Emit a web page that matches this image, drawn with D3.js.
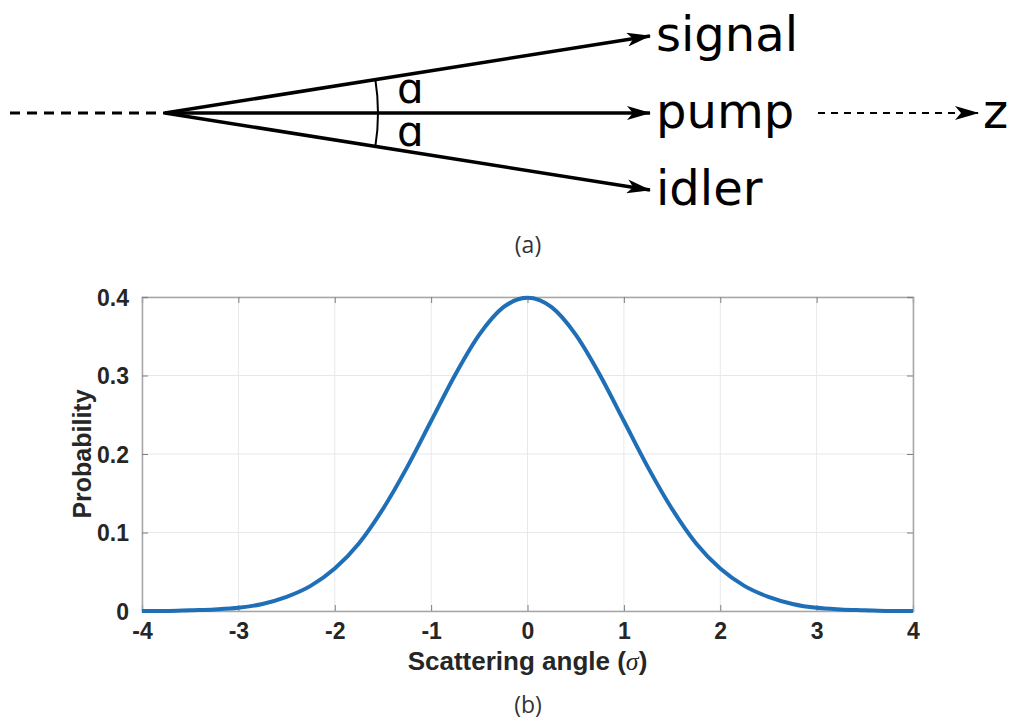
<!DOCTYPE html>
<html>
<head>
<meta charset="utf-8">
<script src="https://cdn.jsdelivr.net/npm/d3@7"></script>
<style>
    body { margin: 0; background: #fff; }
    svg { display: block; }
</style>
</head>
<body>
<svg class="figure" width="1018" height="728"></svg>
<script>
// scattering angle (sigma) vs probability
var angles = [-4, -3.75, -3.5, -3.25, -3, -2.75, -2.5, -2.25, -2, -1.75, -1.5, -1.25, -1, -0.75, -0.5, -0.25,
    0, 0.25, 0.5, 0.75, 1, 1.25, 1.5, 1.75, 2, 2.25, 2.5, 2.75, 3, 3.25, 3.5, 3.75, 4];
var probability = [0.000, 0.000, 0.001, 0.002, 0.004, 0.009, 0.018, 0.032, 0.054, 0.086, 0.130, 0.183, 0.242, 0.301, 0.352, 0.387,
    0.399, 0.387, 0.352, 0.301, 0.242, 0.183, 0.130, 0.086, 0.054, 0.032, 0.018, 0.009, 0.004, 0.002, 0.001, 0.000, 0.000];
var xTicks = [-4, -3, -2, -1, 0, 1, 2, 3, 4];
var yTicks = [0, 0.1, 0.2, 0.3, 0.4];

// beams in panel (a): name and relative angle (+1 up, 0 straight, -1 down)
var beams = ["signal", "pump", "idler"];
var beamDir = [1, 0, -1];

var svg = d3.select("svg.figure");
var defs = svg.append("defs");
defs.append("marker")
    .attr("id", "head")
    .attr("viewBox", "0 0 24 14")
    .attr("refX", 23)
    .attr("refY", 7)
    .attr("markerWidth", 24)
    .attr("markerHeight", 14)
    .attr("markerUnits", "userSpaceOnUse")
    .attr("orient", "auto")
    .append("path")
    .attr("d", "M0,0 L24,7 L0,14 L6,7 Z")
    .attr("fill", "#000");

// ---------- panel (a) ----------
var diag = svg.append("g").classed("diagram", true);
var originX = 165, originY = 113, tipX = 650, spread = 77;
var bigFont = "DejaVu Sans, sans-serif";

diag.append("line")
    .attr("x1", 10).attr("y1", originY)
    .attr("x2", originX).attr("y2", originY)
    .attr("stroke", "#000").attr("stroke-width", 3)
    .attr("stroke-dasharray", "10,7");

beams.forEach(function (name, i) {
    var ty = originY - beamDir[i] * spread;
    diag.append("line")
        .attr("x1", originX).attr("y1", originY)
        .attr("x2", tipX).attr("y2", ty)
        .attr("stroke", "#000").attr("stroke-width", 3.5)
        .attr("marker-end", "url(#head)");
    diag.append("text")
        .attr("x", tipX + 6)
        .attr("y", ty + 15)
        .attr("font-family", bigFont)
        .attr("font-size", 48)
        .text(name);
});

diag.append("line")
    .attr("x1", 818).attr("y1", originY)
    .attr("x2", 978).attr("y2", originY)
    .attr("stroke", "#000").attr("stroke-width", 2)
    .attr("stroke-dasharray", "7,6")
    .attr("marker-end", "url(#head)");
diag.append("text")
    .attr("x", 983).attr("y", originY + 15)
    .attr("font-family", bigFont)
    .attr("font-size", 48)
    .text("z");

// angle arcs
var arcR = 213;
[1, -1].forEach(function (s) {
    var a = Math.atan2(spread, tipX - originX);
    var p = d3.path();
    p.arc(originX, originY, arcR, 0, -s * a, s > 0);
    diag.append("path")
        .attr("d", p.toString())
        .attr("fill", "none")
        .attr("stroke", "#000")
        .attr("stroke-width", 2);
    diag.append("text")
        .attr("x", 397)
        .attr("y", s > 0 ? 103 : 146)
        .attr("font-family", bigFont)
        .attr("font-size", 42)
        .text("ɑ");
});

svg.append("text")
    .attr("x", 528).attr("y", 253)
    .attr("text-anchor", "middle")
    .attr("font-family", "Open Sans, sans-serif")
    .attr("font-size", 23)
    .attr("fill", "#333")
    .text("(a)");

// ---------- panel (b) ----------
var plotLeft = 142, plotRight = 913, plotTop = 297, plotBottom = 611;
var xScale = d3.scaleLinear().domain([-4, 4]).range([plotLeft, plotRight]);
var yScale = d3.scaleLinear().domain([0, 0.4]).range([plotBottom, plotTop]);

var plot = svg.append("g").classed("plot", true);

plot.append("g").selectAll("line.gx")
    .data(xTicks)
    .enter().append("line")
    .classed("gx", true)
    .attr("x1", function (d) { return xScale(d); })
    .attr("x2", function (d) { return xScale(d); })
    .attr("y1", plotTop).attr("y2", plotBottom)
    .attr("stroke", "#e8e8e8").attr("stroke-width", 1);
plot.append("g").selectAll("line.gy")
    .data(yTicks)
    .enter().append("line")
    .classed("gy", true)
    .attr("y1", function (d) { return yScale(d); })
    .attr("y2", function (d) { return yScale(d); })
    .attr("x1", plotLeft).attr("x2", plotRight)
    .attr("stroke", "#e8e8e8").attr("stroke-width", 1);

var fmtX = function (d) { return String(d); };
var fmtY = function (d) { return d === 0 ? "0" : d.toFixed(1); };

var xAxis = plot.append("g")
    .attr("transform", "translate(0," + plotBottom + ")")
    .call(d3.axisBottom(xScale).tickValues(xTicks).tickSize(-6).tickPadding(14).tickFormat(fmtX));
var xAxisTop = plot.append("g")
    .attr("transform", "translate(0," + plotTop + ")")
    .call(d3.axisTop(xScale).tickValues(xTicks).tickSize(-6).tickFormat(""));
var yAxis = plot.append("g")
    .attr("transform", "translate(" + plotLeft + ",0)")
    .call(d3.axisLeft(yScale).tickValues(yTicks).tickSize(-6).tickPadding(13).tickFormat(fmtY));
var yAxisRight = plot.append("g")
    .attr("transform", "translate(" + plotRight + ",0)")
    .call(d3.axisRight(yScale).tickValues(yTicks).tickSize(-6).tickFormat(""));

[xAxis, xAxisTop, yAxis, yAxisRight].forEach(function (ax) {
    ax.attr("font-family", "Liberation Sans, Arial, sans-serif")
        .attr("font-size", 23)
        .attr("font-weight", "bold");
    ax.selectAll("path.domain").attr("stroke", "#a6a6a6").attr("stroke-width", 1.5);
    ax.selectAll(".tick line").attr("stroke", "#7f7f7f").attr("stroke-width", 1);
    ax.selectAll(".tick text").attr("fill", "#262626");
});
xAxis.selectAll(".tick text").attr("dy", "0.6em");
yAxis.selectAll(".tick text").attr("dy", "0.35em");

var line = d3.line()
    .x(function (d, i) { return xScale(angles[i]); })
    .y(function (d) { return yScale(d); })
    .curve(d3.curveMonotoneX);

plot.append("path")
    .datum(probability)
    .attr("d", line)
    .attr("fill", "none")
    .attr("stroke", "#1f6fb6")
    .attr("stroke-width", 4);

svg.append("text")
    .attr("transform", "translate(91," + ((plotTop + plotBottom) / 2) + ") rotate(-90)")
    .attr("text-anchor", "middle")
    .attr("font-family", "Liberation Sans, Arial, sans-serif")
    .attr("font-weight", "bold")
    .attr("font-size", 25)
    .attr("fill", "#262626")
    .text("Probability");

var xLabel = svg.append("text")
    .attr("x", (plotLeft + plotRight) / 2).attr("y", 670)
    .attr("text-anchor", "middle")
    .attr("font-family", "Liberation Sans, Arial, sans-serif")
    .attr("font-weight", "bold")
    .attr("font-size", 26)
    .attr("fill", "#262626");
xLabel.append("tspan").text("Scattering angle (");
xLabel.append("tspan").attr("font-style", "italic").attr("font-weight", "normal")
    .attr("font-family", "Liberation Serif, serif").text("σ");
xLabel.append("tspan").text(")");

svg.append("text")
    .attr("x", 528).attr("y", 713)
    .attr("text-anchor", "middle")
    .attr("font-family", "Open Sans, sans-serif")
    .attr("font-size", 23)
    .attr("fill", "#333")
    .text("(b)");
</script>
</body>
</html>
